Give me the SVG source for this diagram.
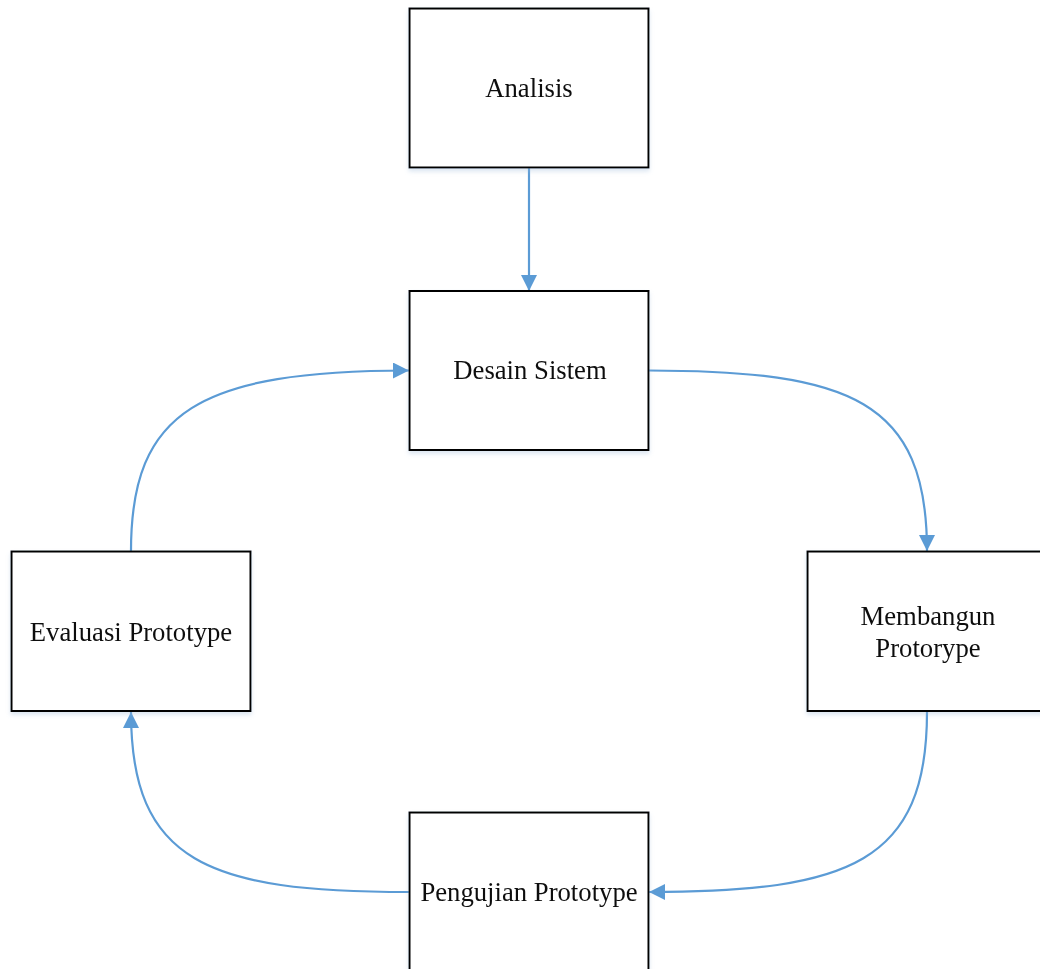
<svg xmlns="http://www.w3.org/2000/svg" width="1040" height="969" viewBox="0 0 1040 969">
<style>
  .box { fill: #ffffff; stroke: #000000; stroke-width: 2; }
  .lbl { font-family: "Liberation Serif", "Times New Roman", serif; font-size: 26.7px; fill: #111111; text-anchor: middle; }
  .conn { fill: none; stroke: #5B9BD5; stroke-width: 2.2; }
</style>
<defs>
  <marker id="arrow" viewBox="0 0 16 16" refX="16" refY="8" markerWidth="16" markerHeight="16" markerUnits="userSpaceOnUse" orient="auto">
    <path d="M0,0 L16,8 L0,16 Z" fill="#5B9BD5"/>
  </marker>
  <filter id="shadow" x="-10%" y="-10%" width="120%" height="130%">
    <feDropShadow dx="0" dy="3" stdDeviation="2" flood-color="#9bb8d8" flood-opacity="0.35"/>
  </filter>
</defs>
<rect width="1040" height="969" fill="#ffffff"/>

<g id="connectors">
  <path class="conn" d="M529,168 L529,291" marker-end="url(#arrow)"/>
  <path class="conn" d="M649,370.5 C850,371 927,400 927,551" marker-end="url(#arrow)"/>
  <path class="conn" d="M927,712 C927,862 850,892 649,892" marker-end="url(#arrow)"/>
  <path class="conn" d="M409,892 C208,892 131,862 131,712" marker-end="url(#arrow)"/>
  <path class="conn" d="M131,551 C131,410 200,371 409,370.5" marker-end="url(#arrow)"/>
</g>

<g id="analisis" filter="url(#shadow)">
  <rect class="box" x="409.5" y="8.5" width="239" height="159"/>
  <text class="lbl" x="529" y="97">Analisis</text>
</g>
<g id="desain-sistem" filter="url(#shadow)">
  <rect class="box" x="409.5" y="291" width="239" height="159"/>
  <text class="lbl" x="530" y="379">Desain Sistem</text>
</g>
<g id="membangun-protorype" filter="url(#shadow)">
  <rect class="box" x="807.5" y="551.5" width="239" height="159.5"/>
  <text class="lbl" x="928" y="625">Membangun</text>
  <text class="lbl" x="928" y="657">Protorype</text>
</g>
<g id="pengujian-prototype" filter="url(#shadow)">
  <rect class="box" x="409.5" y="812.5" width="239" height="170"/>
  <text class="lbl" x="529" y="901">Pengujian Prototype</text>
</g>
<g id="evaluasi-prototype" filter="url(#shadow)">
  <rect class="box" x="11.5" y="551.5" width="239" height="159.5"/>
  <text class="lbl" x="131" y="641">Evaluasi Prototype</text>
</g>
</svg>
